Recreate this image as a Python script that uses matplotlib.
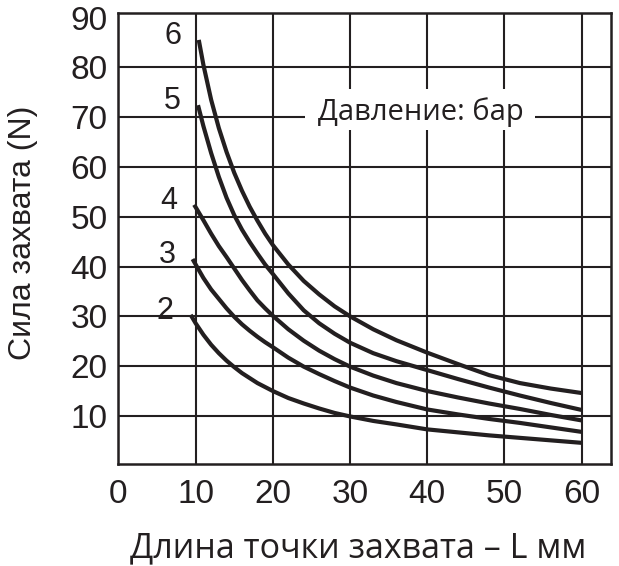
import matplotlib
matplotlib.use("Agg")
import matplotlib.pyplot as plt
from matplotlib.patches import Rectangle

# давление, бар
pressures = ["6", "5", "4", "3", "2"]

# длина точки захвата L, мм  /  сила захвата, N
x6 = [10.4, 11, 12, 13, 14, 15, 16, 17, 18, 19, 20, 22, 24, 26, 28, 30, 33, 36, 40, 44, 48, 52, 56, 60]
y6 = [85.5, 80.5, 73.5, 67.8, 63.0, 58.8, 55.2, 52.0, 49.2, 46.6, 44.3, 40.4, 37.1, 34.4, 32.0, 30.0,
      27.4, 25.2, 22.7, 20.4, 18.2, 16.6, 15.5, 14.6]

x5 = [10.3, 11, 12, 13, 14, 15, 16, 17, 18, 19, 20, 22, 24, 26, 28, 30, 33, 36, 40, 44, 48, 52, 56, 60]
y5 = [72.4, 68.2, 62.8, 58.0, 53.8, 50.3, 47.4, 44.9, 42.6, 40.4, 38.5, 34.6, 31.2, 28.6, 26.5, 24.7,
      22.6, 21.0, 19.2, 17.4, 15.7, 14.1, 12.6, 11.2]

x4 = [9.8, 10, 11, 12, 13, 14, 15, 16, 17, 18, 19, 20, 22, 24, 26, 28, 30, 33, 36, 40, 44, 48, 52, 56, 60]
y4 = [52.4, 51.9, 49.3, 46.6, 44.1, 41.9, 39.6, 37.3, 35.2, 33.2, 31.6, 30.1, 27.4, 25.1, 23.1, 21.4,
      19.9, 18.1, 16.6, 15.0, 13.7, 12.5, 11.4, 10.2, 9.1]

x3 = [9.6, 10, 11, 12, 13, 14, 15, 16, 17, 18, 19, 20, 22, 24, 26, 28, 30, 33, 36, 40, 44, 48, 52, 56, 60]
y3 = [41.5, 40.4, 37.7, 35.4, 33.5, 31.6, 29.9, 28.4, 27.1, 25.9, 24.8, 23.8, 21.7, 19.9, 18.4, 17.0,
      15.7, 14.1, 12.8, 11.3, 10.3, 9.4, 8.6, 7.7, 6.8]

x2 = [9.35, 10, 11, 12, 13, 14, 15, 16, 17, 18, 20, 22, 24, 26, 28, 30, 33, 36, 40, 44, 48, 52, 56, 60]
y2 = [30.3, 28.6, 26.3, 24.3, 22.6, 21.1, 19.8, 18.6, 17.6, 16.6, 15.0, 13.6, 12.5, 11.5, 10.6, 9.9,
      9.0, 8.3, 7.3, 6.7, 6.1, 5.6, 5.1, 4.6]

curves_x = [x6, x5, x4, x3, x2]
curves_y = [y6, y5, y4, y3, y2]

x_ticks = [0, 10, 20, 30, 40, 50, 60]
y_ticks = [10, 20, 30, 40, 50, 60, 70, 80, 90]

ink = "#231f20"

fig = plt.figure(figsize=(6.19, 5.66), dpi=100)
ax = fig.add_axes([0.1914, 0.1802, 0.7957, 0.7968])

ax.set_xlim(0, 63.8)
ax.set_ylim(0.35, 90.9)
ax.set_xticks(x_ticks)
ax.set_yticks(y_ticks)
ax.tick_params(length=0, labelsize=24, labelcolor=ink)
ax.tick_params(axis="y", pad=8)
ax.tick_params(axis="x", pad=11)
for lab in ax.get_xticklabels() + ax.get_yticklabels():
    lab.set_fontfamily("Liberation Sans")

# сетка (без линии на 90 — там уже рамка)
ax.grid(True, color=ink, linewidth=1.5)
ax.set_axisbelow(True)
ax.get_ygridlines()[-1].set_visible(False)
for sp in ax.spines.values():
    sp.set_color(ink)
    sp.set_linewidth(1.8)

for p, xs, ys in zip(pressures, curves_x, curves_y):
    ax.plot(xs, ys, color=ink, linewidth=3.0, solid_capstyle="butt", zorder=3)
    ax.text(xs[0] - 3.3, ys[0] - 0.8, p, fontsize=22, family="Liberation Sans",
            color=ink, ha="center", va="baseline")

# подпись "Давление: бар" на белой подложке
ax.add_patch(Rectangle((0.3787, 0.7406), 0.467, 0.0909, transform=ax.transAxes,
                       facecolor="white", edgecolor="none", zorder=2))
ax.text(0.614, 0.7627, "Давление: бар", transform=ax.transAxes, fontsize=21,
        family="Open Sans", color=ink, ha="center", va="baseline", zorder=4)

ax.set_ylabel("Сила захвата (N)", fontsize=23, family="Liberation Sans", color=ink)
ax.yaxis.set_label_coords(-0.163, 0.513)
fig.text(0.578, 0.0145, "Длина точки захвата – L мм", fontsize=24.5, family="Open Sans",
         color=ink, ha="center", va="baseline")

fig.savefig("out.png", dpi=100)
